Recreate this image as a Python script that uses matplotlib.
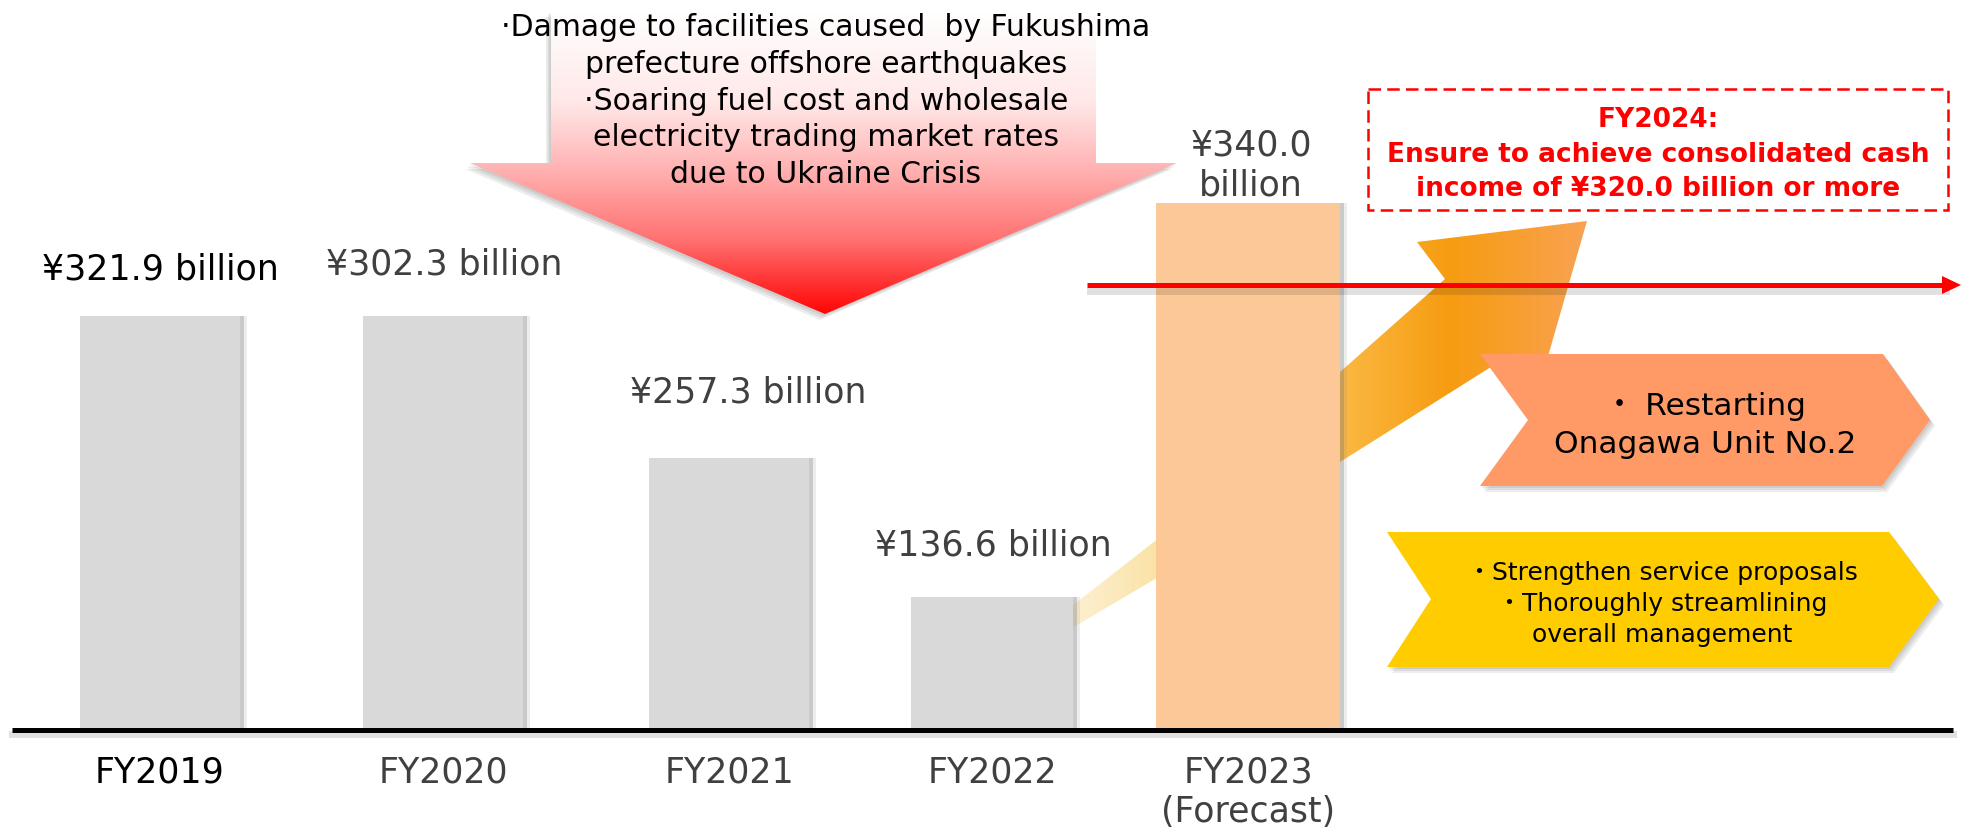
"""Consolidated cash income FY2019-FY2023 (forecast) with FY2024 target slide."""
import numpy as np
import matplotlib
matplotlib.use("Agg")
import matplotlib.pyplot as plt
from matplotlib.colors import to_rgba
from matplotlib.patches import Polygon, Rectangle

plt.rcParams["font.family"] = ["DejaVu Sans", "Noto Sans CJK JP"]

# ---- data --------------------------------------------------------------
fiscal_years = ["FY2019", "FY2020", "FY2021", "FY2022", "FY2023\n(Forecast)"]
cash_income = [321.9, 302.3, 257.3, 136.6, 340.0]      # billion yen
# bars on the slide are schematic (not to scale): drawn heights, px
bar_heights = [414, 414, 272, 133, 527]
target_2024 = 320.0

headwinds = [
    "·Damage to facilities caused  by Fukushima",
    "prefecture offshore earthquakes",
    "·Soaring fuel cost and wholesale",
    "electricity trading market rates",
    "due to Ukraine Crisis",
]
target_lines = [
    "FY2024:",
    "Ensure to achieve consolidated cash",
    f"income of ¥{target_2024:.1f} billion or more",
]
measures_nuclear = ["・ Restarting", "Onagawa Unit No.2"]
measures_mgmt = ["・Strengthen service proposals", "・Thoroughly streamlining",
                 "overall management"]

# ---- layout (pixel canvas, y grows downwards) ----------------------------
W, H = 1968, 828
BASE_Y = 731
BAR_X = [160, 443, 729, 992, 1248]
BAR_W = [160, 160, 160, 162, 184]
BAR_COLORS = ["#d9d9d9"] * 4 + ["#fdc897"]
TEXT_COLORS = ["#000000"] + ["#404040"] * 4
LABEL_XY = [(160, 280), (444, 275), (748, 403), (993, 556), (1251, 155)]
TICK_Y = 783
RED = "#ff0000"


def fill_gradient(ax, verts, stops, along, zorder):
    poly = Polygon(verts, closed=True, facecolor="none", edgecolor="none")
    ax.add_patch(poly)
    xs = [p[0] for p in verts]
    ys = [p[1] for p in verts]
    pos = [s[0] for s in stops]
    rgba = np.array([to_rgba(s[1]) for s in stops])
    t = np.linspace(0, 1, 300)
    grad = np.stack([np.interp(t, pos, rgba[:, k]) for k in range(4)], axis=-1)
    img = grad[np.newaxis, :, :] if along == "x" else grad[:, np.newaxis, :]
    im = ax.imshow(img, extent=(min(xs), max(xs), max(ys), min(ys)), origin="upper",
                   aspect="auto", interpolation="bilinear", zorder=zorder)
    im.set_clip_path(poly)


def soft_shadow(ax, verts, dx, dy, zorder, layers=3):
    for k in range(layers):
        off = [(x + dx * (k + 1) / layers, y + dy * (k + 1) / layers) for x, y in verts]
        ax.add_patch(Polygon(off, closed=True, facecolor="#000000", alpha=0.07,
                             edgecolor="none", zorder=zorder))


fig = plt.figure(figsize=(W / 100, H / 100), dpi=100)
ax = fig.add_axes([0, 0, 1, 1])

# orange "recovery" arrow behind the FY2023 bar
recovery = [(1060, 614), (1072, 607), (1155, 542), (1340, 373), (1445, 280), (1417, 243),
            (1587, 222), (1540, 385), (1510, 356), (1340, 463), (1155, 580), (1072, 629),
            (1060, 634)]
fill_gradient(ax, recovery,
              [(0.0, "#fdf2d8"), (0.17, "#fbe4aa"), (0.36, "#fbc75a"), (0.53, "#fbb944"),
               (0.74, "#f69c10"), (1.0, "#f9a252")], "x", zorder=1)

# bars + a thin shadow on their right side
neg = [-h for h in bar_heights]
right_edges = [x + w / 2 for x, w in zip(BAR_X, BAR_W)]
ax.bar([r + 2 for r in right_edges], neg, bottom=BASE_Y, width=4,
       color="#7a7a7a", alpha=0.4, zorder=2)
ax.bar([r + 5 for r in right_edges], neg, bottom=BASE_Y, width=3,
       color="#8c8c8c", alpha=0.15, zorder=2)
ax.bar(BAR_X, neg, bottom=BASE_Y, width=BAR_W, color=BAR_COLORS, zorder=3)

# baseline
ax.plot([12, 1953], [BASE_Y + 4, BASE_Y + 4], color="#000000", alpha=0.12, lw=5, zorder=3.5)
ax.plot([12, 1953], [BASE_Y, BASE_Y], color="#000000", lw=3.6,
        solid_capstyle="butt", zorder=4)

# value labels and category labels
for i, v in enumerate(cash_income):
    lx, ly = LABEL_XY[i]
    label = f"¥{v:.1f}\nbillion" if i == len(cash_income) - 1 else f"¥{v:.1f} billion"
    for k, line in enumerate(label.split("\n")):
        ax.text(lx, ly + k * 41, line, ha="center", va="baseline", fontsize=25,
                color=TEXT_COLORS[i], zorder=5)
    for k, line in enumerate(fiscal_years[i].split("\n")):
        ax.text(BAR_X[i], TICK_Y + k * 39, line, ha="center", va="baseline", fontsize=25,
                color=TEXT_COLORS[i], zorder=5)

# big red down arrow with the headwinds
down = [(551, 12), (1096, 12), (1096, 164), (1177, 164), (825, 315), (470, 164), (551, 164)]
soft_shadow(ax, down, -5, 6, zorder=0.5)
fill_gradient(ax, down,
              [(0.0, "#ffffff"), (0.3, "#ffe8e8"), (0.5, "#ffb8b8"), (0.75, "#ff7373"),
               (1.0, "#ff0505")], "y", zorder=1)
for k, line in enumerate(headwinds):
    ax.text(826, 36 + k * 36.8, line, ha="center", va="baseline", fontsize=21.5,
            color="#000000", zorder=5)

# FY2024 target box
ax.add_patch(Rectangle((1368, 90), 580, 121, fill=False, edgecolor=RED, lw=1.8,
                       linestyle=(0, (5, 2.5)), zorder=5))
for k, line in enumerate(target_lines):
    ax.text(1658, 127 + k * 34.5, line, ha="center", va="baseline", fontsize=19,
            fontweight="bold", color=RED, zorder=6)

# red target line with arrow head
ax.plot([1090, 1946], [292, 292], color="#000000", alpha=0.12, lw=5, zorder=5)
ax.plot([1087, 1945], [286, 286], color=RED, lw=3.6, solid_capstyle="butt", zorder=6)
ax.add_patch(Polygon([(1942, 277), (1961, 286), (1942, 295)], closed=True,
                     facecolor=RED, edgecolor="none", zorder=6))

# measure chevrons
onagawa = [(1480, 355), (1883, 355), (1930, 421), (1882, 487), (1480, 487), (1528, 421)]
mgmt = [(1387, 533), (1889, 533), (1939, 600), (1889, 668), (1387, 668), (1431, 600)]
for verts, color in [(onagawa, "#ff9966"), (mgmt, "#ffcc00")]:
    soft_shadow(ax, verts, 5, 6, zorder=6.5)
    ax.add_patch(Polygon(verts, closed=True, facecolor=color, edgecolor="none", zorder=7))

for k, line in enumerate(measures_nuclear):
    ax.text(1705, 415 + k * 38, line, ha="center", va="baseline", fontsize=22.5,
            color="#000000", zorder=8)
for k, line in enumerate(measures_mgmt):
    ax.text(1662, 580 + k * 31, line, ha="center", va="baseline", fontsize=18,
            color="#000000", zorder=8)

ax.set_xlim(0, W)
ax.set_ylim(H, 0)
ax.axis("off")
fig.savefig("out.png", dpi=100, facecolor="white")
